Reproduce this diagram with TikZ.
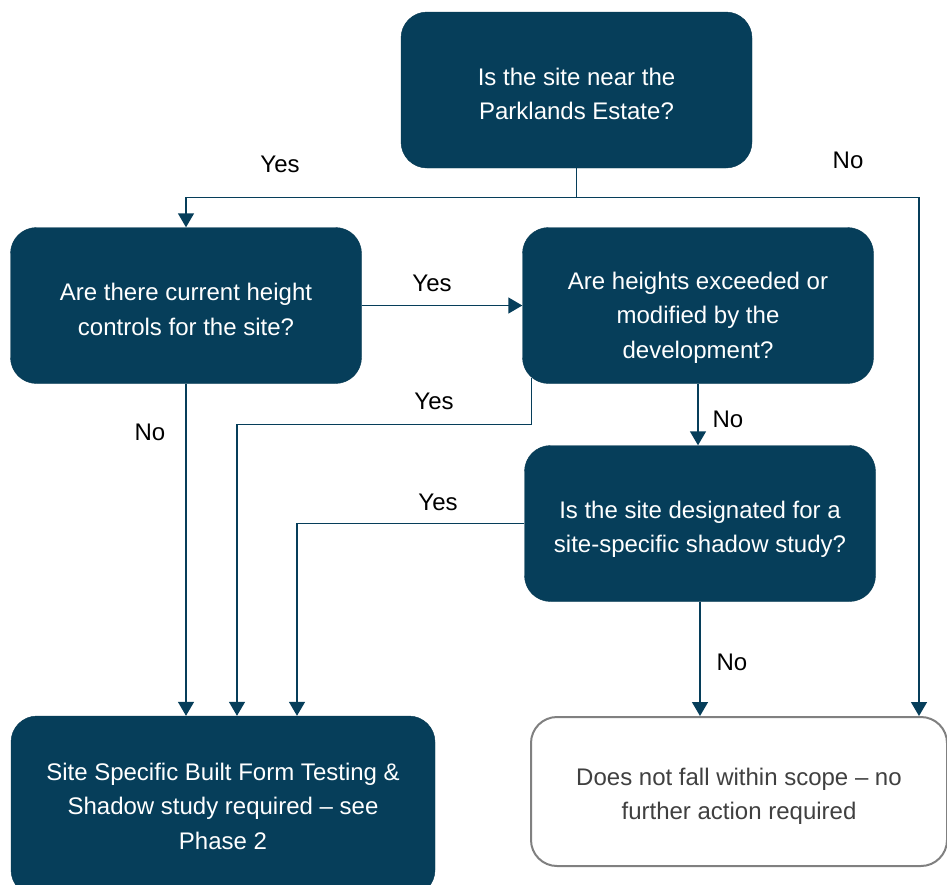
\documentclass[tikz,border=0pt]{standalone}
\usepackage{fontspec}
\setmainfont{Liberation Sans}
\usetikzlibrary{arrows.meta}
\definecolor{navy}{RGB}{6,62,90}
\definecolor{boxgray}{RGB}{128,128,128}
\definecolor{textgray}{RGB}{64,64,64}

\begin{document}
\begin{tikzpicture}[x=1pt,y=-1pt,>={Triangle[width=16pt,length=14pt]},
	font=\fontsize{24}{34.5}\selectfont,
	question/.style={draw=navy!90!black,fill=navy,rounded corners=26pt,
		inner sep=0pt,minimum width=351pt,minimum height=156pt},
	outcome/.style={draw=boxgray,line width=2pt,fill=white,rounded corners=26pt,
		inner sep=0pt},
	qtext/.style={text=white,align=center,inner sep=0pt},
	otext/.style={text=textgray,align=center,inner sep=0pt},
	link/.style={draw=navy,line width=1.4pt,->},
	answer/.style={text=black}]
	
	\useasboundingbox (0,0) rectangle (947,884);
	
	%------------------------------
	% Questions
	%------------------------------
	\node[question] (parklands) at (576.5,90) {};
	\node[qtext,yshift=-4pt] (parklandsText) at (parklands) {Is the site near the\\Parklands Estate?};
	
	\node[question] (controls) at (186,305.5) {};
	\node[qtext,yshift=-4pt] (controlsText) at (controls) {Are there current height\\controls for the site?};
	
	\node[question] (exceeded) at (698,305.5) {};
	\node[qtext,yshift=-12pt] (exceededText) at (exceeded) {Are heights exceeded or\\modified by the\\development?};
	
	\node[question] (designated) at (700,523.5) {};
	\node[qtext,yshift=-6pt] (designatedText) at (designated) {Is the site designated for a\\site-specific shadow study?};
	
	%------------------------------
	% Outcomes
	%------------------------------
	\node[question,minimum width=424pt,minimum height=180pt] (phase) at (223,806) {};
	\node[qtext] (phaseText) at (phase)
	{Site Specific Built Form Testing \&\\Shadow study required -- see\\Phase 2};
	
	\node[outcome,minimum width=416pt,minimum height=149pt] (scope) at (739,791.5) {};
	\node[otext,yshift=-5pt] (scopeText) at (scope) {Does not fall within scope -- no\\further action required};
	
	%------------------------------
	% Connectors
	%------------------------------
	\draw[link] (parklands.south) -- ++(0,29) coordinate (split) -| (controls.north);
	\draw[link] (split) -| ([xshift=180pt]scope.north);
	\draw[link] (controls.east) -- (exceeded.west);
	\draw[link] (exceeded.south) -- (exceeded.south |- designated.north);
	\draw[link] ([xshift=9pt,yshift=6pt]exceeded.south west) -- ++(0,47) -| ([xshift=14pt]phase.north);
	\draw[link] (designated.west) -| ([xshift=74pt]phase.north);
	\draw[link] (controls.south) -- (controls.south |- phase.north);
	\draw[link] (designated.south) -- (designated.south |- scope.north);
	
	% Answers
	\node[answer] (yesA) at (280,164) {Yes};
	\node[answer] (noA) at (848,160) {No};
	\node[answer] (yesB) at (432,283) {Yes};
	\node[answer] (noB) at (150,432) {No};
	\node[answer] (yesC) at (434,401) {Yes};
	\node[answer] (noC) at (728,419) {No};
	\node[answer] (yesD) at (438,502) {Yes};
	\node[answer] (noD) at (732,662) {No};
	
\end{tikzpicture}
\end{document}
